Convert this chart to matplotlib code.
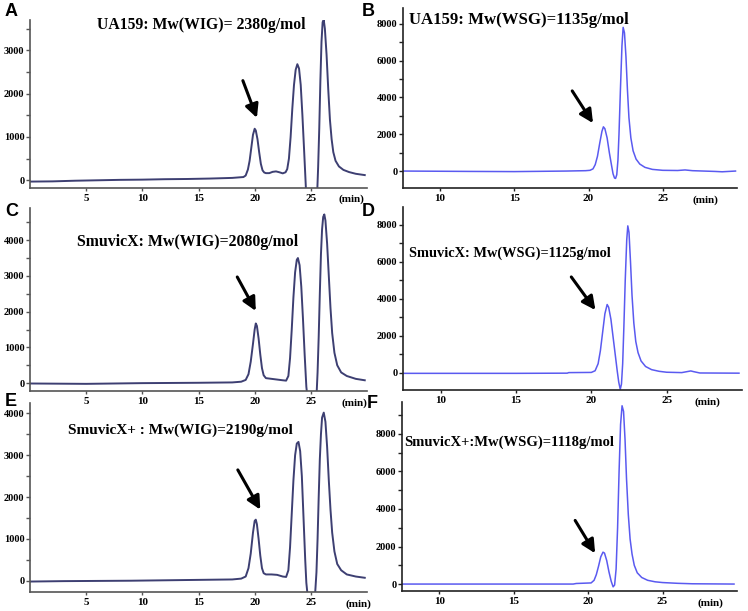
import numpy as np
import matplotlib
matplotlib.use('Agg')
import matplotlib.pyplot as plt

W, H = 748, 611

# panel A: UA159, WIG
a_t = [0, 2, 4, 6, 8, 10, 12, 14, 16, 18, 19.0, 19.2, 19.4, 19.55, 19.7, 19.85, 20.0, 20.1,
       20.25, 20.4, 20.55, 20.7, 20.85, 21.0, 21.3, 21.6, 21.9, 22.2, 22.5, 22.75, 22.9, 23.05,
       23.2, 23.35, 23.5, 23.65, 23.8, 23.95, 24.1, 24.25, 24.4, 24.5, 24.6,
       25.55, 25.65, 25.75, 25.85, 25.95, 26.05, 26.15, 26.25, 26.4, 26.55, 26.7, 26.85, 27.0,
       27.2, 27.5, 27.9, 28.4, 29.0, 29.8]
a_y = [-30, -25, -10, 0, 10, 15, 25, 30, 40, 55, 75, 110, 250, 450, 750, 1050, 1190, 1150,
       950, 650, 380, 230, 180, 165, 165, 195, 205, 185, 160, 185, 260, 500,
       1000, 1650, 2200, 2550, 2680, 2580, 2200, 1500, 700, 150, -400,
       -400, 300, 1200, 2300, 3200, 3650, 3700, 3500, 2900, 2100, 1400, 950, 650,
       450, 320, 240, 190, 150, 120]

# panel B: UA159, WSG
b_t = [7.5, 12, 15, 18.5, 19.8, 20.1, 20.3, 20.45, 20.6, 20.75, 20.9, 21.0, 21.1, 21.25, 21.4,
       21.55, 21.65, 21.75, 21.82, 21.9, 21.98, 22.05, 22.15, 22.25, 22.33, 22.42, 22.52, 22.62,
       22.72, 22.85, 23.0, 23.2, 23.45, 23.8, 24.3, 25.0, 26.0, 26.5, 27.0, 28.5, 29.0, 29.9]
b_y = [0, -20, -30, 0, 20, 40, 120, 350, 800, 1500, 2150, 2400, 2300, 1800, 1000,
       300, -150, -380, -400, -200, 600, 2000, 4500, 6800, 7800, 7500, 6200, 4400,
       2900, 1800, 1100, 650, 380, 200, 90, 40, 30, 60, 20, -20, -40, 0]

# panel C: SmuvicX, WIG
c_t = [0, 5, 10, 15, 18, 18.8, 19.2, 19.45, 19.65, 19.85, 20.0, 20.1, 20.2, 20.35, 20.5, 20.65,
       20.8, 21.0, 21.5, 22.0, 22.5, 22.8, 23.0, 23.15, 23.3, 23.45, 23.6, 23.75, 23.85, 24.0,
       24.15, 24.3, 24.45, 24.6, 24.7,
       25.5, 25.6, 25.7, 25.8, 25.9, 26.0, 26.1, 26.2, 26.3, 26.45, 26.6, 26.75, 26.9, 27.1,
       27.35, 27.7, 28.2, 29.0, 29.8]
c_y = [-10, -20, 0, 10, 20, 40, 90, 250, 600, 1100, 1500, 1670, 1600, 1250, 800, 420,
       220, 140, 120, 100, 80, 70, 200, 700, 1500, 2400, 3100, 3450, 3500, 3300,
       2700, 1800, 800, -100, -400,
       -400, 300, 1300, 2500, 3600, 4300, 4650, 4720, 4550, 3900, 3000, 2100, 1400, 850,
       500, 300, 200, 120, 80]

# panel D: SmuvicX, WSG
d_t = [7.5, 15, 18.4, 18.5, 20.0, 20.25, 20.45, 20.6, 20.75, 20.9, 21.05, 21.15, 21.3, 21.45,
       21.6, 21.72, 21.82, 21.92, 22.0, 22.08, 22.16, 22.25, 22.35, 22.42, 22.5, 22.6, 22.7,
       22.82, 22.95, 23.1, 23.3, 23.6, 24.0, 24.5, 25.0, 26.0, 26.4, 26.6, 26.8, 27.2, 29.8]
d_y = [-20, -20, -10, 20, 30, 120, 500, 1200, 2200, 3200, 3700, 3550, 2900, 1900,
       900, 100, -500, -880, -600, 500, 2500, 5000, 7200, 7950, 7600, 6000, 4200,
       2700, 1700, 1100, 650, 350, 180, 90, 40, 20, 80, 110, 70, 0, -10]

# panel E: SmuvicX+, WIG
e_t = [0, 3, 6, 9, 12, 15, 18, 18.8, 19.2, 19.45, 19.65, 19.85, 20.0, 20.1, 20.2, 20.35, 20.5,
       20.65, 20.8, 21.0, 21.5, 22.0, 22.5, 22.8, 23.0, 23.15, 23.3, 23.45, 23.6, 23.75, 23.9,
       24.05, 24.2, 24.35, 24.5, 24.6, 24.75,
       25.35, 25.5, 25.6, 25.7, 25.8, 25.9, 26.0, 26.15, 26.3, 26.45, 26.6, 26.75, 26.9, 27.1,
       27.35, 27.7, 28.2, 29.0, 29.8]
e_y = [-20, -10, -5, 0, 10, 20, 30, 50, 100, 300, 650, 1150, 1430, 1460, 1350, 1000, 600,
       300, 180, 150, 150, 140, 100, 90, 250, 800, 1600, 2400, 3000, 3280, 3320,
       3100, 2500, 1500, 500, -50, -450,
       -450, 200, 1000, 2000, 2900, 3500, 3900, 4020, 3800, 3200, 2400, 1700, 1150, 700,
       400, 250, 150, 100, 70]

# panel F: SmuvicX+, WSG
f_t = [7.5, 19.0, 19.2, 20.2, 20.4, 20.55, 20.7, 20.85, 21.0, 21.1, 21.25, 21.4, 21.55, 21.68,
       21.78, 21.88, 21.98, 22.08, 22.18, 22.28, 22.38, 22.48, 22.58, 22.7, 22.82, 22.95, 23.1,
       23.3, 23.6, 24.0, 24.5, 25.0, 26.0, 27.0, 29.8]
f_y = [0, 0, 30, 60, 200, 500, 950, 1450, 1700, 1650, 1250, 650, 150, -150,
       -50, 800, 3000, 6000, 8500, 9500, 9200, 7700, 5600, 3700, 2400, 1600, 1000,
       600, 350, 200, 120, 80, 40, 15, 0]

titles = ['UA159: Mw(WIG)= 2380g/mol', 'UA159: Mw(WSG)=1135g/mol',
          'SmuvicX: Mw(WIG)=2080g/mol', 'SmuvicX: Mw(WSG)=1125g/mol',
          'SmuvicX+ : Mw(WIG)=2190g/mol', 'SmuvicX+:Mw(WSG)=1118g/mol']
letters = ['A', 'B', 'C', 'D', 'E', 'F']

# arrow start / end in data coords
arrows = [((18.95, 2300), (20.2, 1440)), ((18.9, 4350), (20.3, 2600)),
          ((18.45, 2970), (20.1, 2020)), ((18.67, 5190), (20.27, 3400)),
          ((18.5, 2650), (20.5, 1700)), ((19.13, 3390), (20.47, 1640))]

series = [(a_t, a_y), (b_t, b_y), (c_t, c_y), (d_t, d_y), (e_t, e_y), (f_t, f_y)]

# layout in pixels: left, right, top, bottom
boxes = [(30, 367, 20, 188), (403, 737, 8, 188),
         (30, 367, 208, 391), (403, 742, 207, 390),
         (30, 367, 403, 592), (402, 737, 402, 591)]
xlims = [(0, 30), (7.5, 30), (0, 30), (7.5, 30), (0, 30), (7.5, 30)]
ylims = [(-178, 3700), (-920, 8850), (-220, 4900), (-920, 8970), (-270, 4250), (-370, 9700)]
major = [1000, 2000, 1000, 2000, 1000, 2000]
ymaxtick = [3000, 8000, 4000, 8000, 4000, 8000]
title_pos = [(97, 25, 11.3), (409, 20, 12.1), (77, 242, 11.4), (409, 253, 10.4),
             (68, 430, 11), (404, 442, 10.5)]
letter_pos = [(5, 12), (362, 12), (5, 212), (362, 212), (5, 402), (367, 404)]
min_x = [28.6, 27.9, 28.85, 27.7, 29.25, 28.2]

serif = 'Liberation Serif'

fig = plt.figure(figsize=(W / 100, H / 100), dpi=100)

for i in range(6):
    l, r, t, b = boxes[i]
    ax = fig.add_axes([l / W, 1 - b / H, (r - l) / W, (b - t) / H])
    ax.patch.set_visible(False)
    left_col = i % 2 == 0
    col = '#3d3f72' if left_col else '#5a5af0'
    spc = '#555555' if left_col else '#222222'
    ax.plot(series[i][0], series[i][1], color=col, lw=1.4 if left_col else 1.1)
    ax.set_xlim(*xlims[i])
    ax.set_ylim(*ylims[i])
    for s in ['top', 'right']:
        ax.spines[s].set_visible(False)
    for s in ['left', 'bottom']:
        ax.spines[s].set_color(spc)
        ax.spines[s].set_linewidth(1.2)
    xt = [5, 10, 15, 20, 25] if left_col else [10, 15, 20, 25]
    ax.set_xticks(xt)
    ax.set_xticklabels([str(v) for v in xt], fontfamily=serif, fontweight='bold', fontsize=8)
    yt = np.arange(0, ymaxtick[i] + 1, major[i])
    ax.set_yticks(yt)
    ax.set_yticklabels([str(int(v)) for v in yt], fontfamily=serif, fontweight='bold', fontsize=7.5)
    ax.set_yticks(np.arange(major[i] / 2, ylims[i][1], major[i]), minor=True)
    ax.tick_params(axis='y', which='both', direction='out', length=3, width=1, color=spc, pad=1)
    ax.tick_params(axis='x', direction='out', length=2, width=1, color=spc, pad=2)
    ax.text(min_x[i], -0.04, '(min)', transform=ax.get_xaxis_transform(), ha='center', va='top',
            fontfamily=serif, fontweight='bold', fontsize=8)
    (x0, y0), (x1, y1) = arrows[i]
    ax.annotate('', xy=(x1, y1), xytext=(x0, y0),
                arrowprops=dict(arrowstyle='-|>', lw=2.2, mutation_scale=20, color='black',
                                shrinkA=0, shrinkB=0))
    tx, ty, fs = title_pos[i]
    fig.text(tx / W, 1 - ty / H, titles[i], ha='left', va='center',
             fontfamily=serif, fontweight='bold', fontsize=fs)
    lx, ly = letter_pos[i]
    fig.text(lx / W, 1 - ly / H, letters[i], ha='left', va='center',
             fontfamily='Liberation Sans', fontweight='bold', fontsize=13)

fig.savefig('out.png', dpi=100)
